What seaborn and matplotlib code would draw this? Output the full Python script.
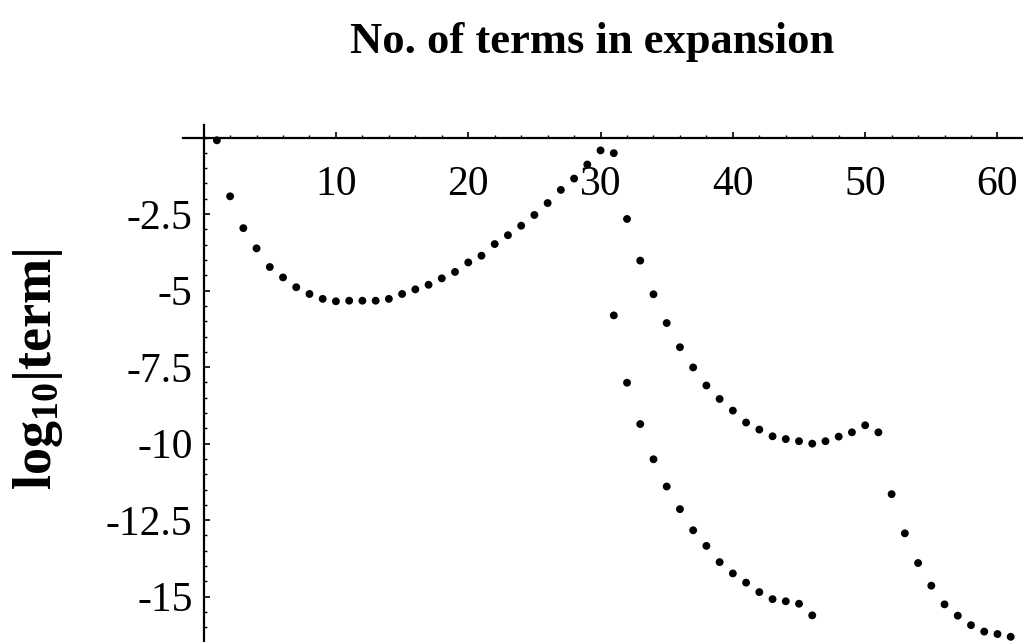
import numpy as np
import pandas as pd
import seaborn as sns
import matplotlib.pyplot as plt
from matplotlib.ticker import MultipleLocator

# values
n_upper = list(range(1, 32))
log_upper = [-0.09, -1.92, -2.96, -3.62, -4.23, -4.57, -4.89, -5.11, -5.27, -5.35,
             -5.33, -5.33, -5.33, -5.27, -5.11, -4.96, -4.81, -4.60, -4.39, -4.08,
             -3.86, -3.48, -3.19, -2.88, -2.53, -2.14, -1.71, -1.34, -0.88, -0.42,
             -0.51]

n_middle = list(range(32, 62))
log_middle = [-2.66, -4.02, -5.12, -6.06, -6.85, -7.51, -8.10, -8.54, -8.92, -9.31,
              -9.54, -9.76, -9.85, -9.92, -10.00, -9.92, -9.77, -9.63, -9.40, -9.63,
              -11.65, -12.93, -13.90, -14.64, -15.25, -15.62, -15.93, -16.14, -16.22,
              -16.31]

n_lower = list(range(31, 47))
log_lower = [-5.81, -8.01, -9.36, -10.51, -11.40, -12.14, -12.83, -13.34, -13.87,
             -14.24, -14.54, -14.85, -15.08, -15.15, -15.23, -15.61]

sns.set_style("white")
plt.rcParams['font.family'] = ['Liberation Serif', 'DejaVu Serif']
plt.rcParams['mathtext.default'] = 'regular'
plt.rcParams['text.color'] = 'black'
plt.rcParams['xtick.color'] = 'black'
plt.rcParams['ytick.color'] = 'black'

fig = plt.figure(figsize=(10.23, 6.42), dpi=100)
ax = fig.add_axes([183 / 1023, 0.0, 840 / 1023, (642 - 125) / 642])

for n, v in [(n_upper, log_upper), (n_middle, log_middle), (n_lower, log_lower)]:
    df = pd.DataFrame({"n": n, "log": v})
    sns.scatterplot(data=df, x="n", y="log", color="black", s=32,
                    edgecolor="none", ax=ax)

ax.set_xlim(-1.56, 61.93)
ax.set_ylim(-16.48, 0.41)

ax.spines['left'].set_position(('data', 0))
ax.spines['bottom'].set_position(('data', 0))
ax.spines['top'].set_visible(False)
ax.spines['right'].set_visible(False)
for s in ['left', 'bottom']:
    ax.spines[s].set_linewidth(1.6)
    ax.spines[s].set_color("black")

ax.xaxis.set_minor_locator(MultipleLocator(2))
ax.yaxis.set_minor_locator(MultipleLocator(0.5))

ax.set_xticks([10, 20, 30, 40, 50, 60])
ax.set_xticklabels(["10", "20", "30", "40", "50", "60"])
ax.set_yticks([-2.5, -5, -7.5, -10, -12.5, -15])
ax.set_yticklabels(["-2.5", "-5", "-7.5", "-10", "-12.5", "-15"])

ax.tick_params(axis='x', which='major', direction='in', length=4, width=1.2,
               labelsize=30, pad=20, bottom=True)
ax.tick_params(axis='x', which='minor', direction='in', length=2.5, width=1,
               bottom=True)
ax.tick_params(axis='y', which='major', direction='in', length=4, width=1.2,
               labelsize=30, pad=8, left=True)
ax.tick_params(axis='y', which='minor', direction='in', length=2.5, width=1,
               left=True)

ax.set_xlabel("")
ax.set_ylabel("")

fig.text(592 / 1023, 1 - 53 / 642, "No. of terms in expansion", fontsize=32,
         fontweight='bold', ha='center', va='baseline')
fig.text(38 / 1023, 1 - 369 / 642, "log$_{10}$|term|", fontsize=39,
         fontweight='bold', rotation=90, ha='center', va='center')

fig.savefig("out.png", dpi=100)
